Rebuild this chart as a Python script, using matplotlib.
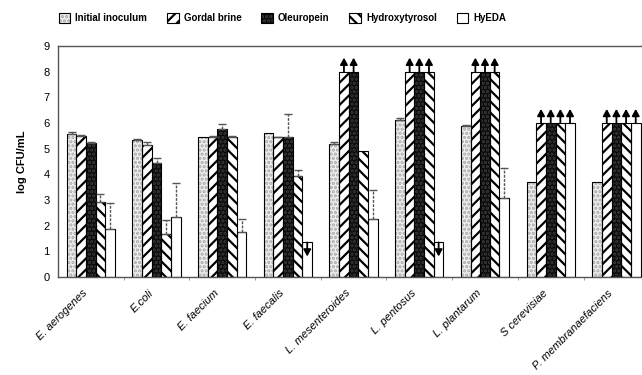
import numpy as np
import matplotlib.pyplot as plt
from matplotlib.patches import Patch

strains = ['E. aerogenes', 'E.coli', 'E. faecium', 'E. faecalis', 'L. mesenteroides',
           'L. pentosus', 'L. plantarum', 'S cerevisiae', 'P. membranaefaciens']
series = ['Initial inoculum', 'Gordal brine', 'Oleuropein', 'Hydroxytyrosol', 'HyEDA']

initial = [5.56, 5.33, 5.44, 5.61, 5.18, 6.13, 5.88, 3.69, 3.69]
gordal = [5.49, 5.15, 5.46, 5.44, 8.0, 8.0, 8.0, 6.0, 6.0]
oleuropein = [5.23, 4.42, 5.75, 5.44, 8.0, 8.0, 8.0, 6.0, 6.0]
hydroxy = [2.93, 1.65, 5.44, 3.93, 4.92, 8.0, 8.0, 6.0, 6.0]
hyeda = [1.87, 2.34, 1.73, 1.34, 2.25, 1.34, 3.06, 6.0, 6.0]

err_initial = [0.10, 0.04, 0.0, 0.0, 0.08, 0.05, 0.03, 0.0, 0.0]
err_gordal = [0.04, 0.09, 0.02, 0.03, 0.0, 0.0, 0.0, 0.0, 0.0]
err_oleuropein = [0.03, 0.20, 0.20, 0.93, 0.0, 0.0, 0.0, 0.0, 0.0]
err_hydroxy = [0.30, 0.56, 0.06, 0.23, 0.0, 0.0, 0.0, 0.0, 0.0]
err_hyeda = [0.99, 1.33, 0.52, 0.0, 1.12, 0.0, 1.17, 0.0, 0.0]

# 1 = above detection limit (arrow up), -1 = below detection limit (arrow down)
arr_initial = [0, 0, 0, 0, 0, 0, 0, 0, 0]
arr_gordal = [0, 0, 0, 0, 1, 1, 1, 1, 1]
arr_oleuropein = [0, 0, 0, 0, 1, 1, 1, 1, 1]
arr_hydroxy = [0, 0, 0, 0, 0, 1, 1, 1, 1]
arr_hyeda = [0, 0, 0, -1, 0, -1, 0, 1, 1]

values = [initial, gordal, oleuropein, hydroxy, hyeda]
errors = [err_initial, err_gordal, err_oleuropein, err_hydroxy, err_hyeda]
arrows = [arr_initial, arr_gordal, arr_oleuropein, arr_hydroxy, arr_hyeda]

# face colour, hatch, hatch colour
styles = [('#efefef', '....', '#a8a8a8'),
          ('white', '///', 'black'),
          ('#0c0c0c', '....', '#3a3a3a'),
          ('white', '\\\\\\', 'black'),
          ('white', '', 'black')]

plt.rcParams['hatch.linewidth'] = 1.6
plt.rcParams['font.family'] = 'Liberation Sans'

fig = plt.figure(figsize=(6.42, 3.75), dpi=100)
ax = fig.add_axes([0.0903, 0.262, 0.921, 0.615])

x = np.arange(len(strains))
w = 0.147
astyle = '-|>,head_width=0.22,head_length=0.4'

for i in range(5):
    pos = x + (i - 2) * w
    fc, hatch, hc = styles[i]
    ax.bar(pos, values[i], w, facecolor=fc, hatch=hatch, edgecolor=hc, linewidth=0, zorder=2)
    ax.bar(pos, values[i], w, fill=False, edgecolor='black', linewidth=0.8, zorder=3)
    errs = np.array(errors[i])
    m = errs > 0
    eb = ax.errorbar(pos[m], np.array(values[i])[m], yerr=[np.zeros(m.sum()), errs[m]],
                     fmt='none', ecolor='#555555', elinewidth=1, capsize=3, capthick=1, zorder=4)
    eb[2][0].set_linestyle((0, (2, 1)))
    for j in range(len(strains)):
        v = values[i][j]
        if arrows[i][j] == 0:
            continue
        tip = v + 0.55 if arrows[i][j] == 1 else v - 0.55
        ax.annotate('', xy=(pos[j], tip), xytext=(pos[j], v),
                    arrowprops=dict(arrowstyle=astyle, color='black', lw=1.3,
                                    shrinkA=0, shrinkB=0, mutation_scale=10), zorder=5)

ax.set_xlim(-0.5, len(strains) - 0.5)
ax.set_ylim(0, 9)
ax.set_yticks(range(10))
ax.tick_params(axis='y', length=0, labelsize=8, pad=6)
# labels sit a little left of the group centre, as in the original
ax.set_xticks(x - 0.13)
ax.set_xticklabels(strains, rotation=45, ha='right', rotation_mode='anchor',
                   fontstyle='italic', fontsize=8)
ax.tick_params(axis='x', length=0, pad=8)
ax.set_xticks(x[:-1] + 0.5, minor=True)
ax.tick_params(axis='x', which='minor', length=2, direction='out', color='#888888')
ax.set_ylabel('log CFU/mL', fontsize=8, fontweight='bold', labelpad=12)
for s in ax.spines.values():
    s.set_color('#555555')
    s.set_linewidth(1)

handles = [Patch(facecolor=styles[i][0], hatch=styles[i][1], edgecolor=styles[i][2], linewidth=0)
           for i in range(5)]
handles = [(h, Patch(fill=False, edgecolor='black', linewidth=0.8)) for h in handles]
fig.legend(handles, series, ncol=5, loc='center left', bbox_to_anchor=(0.078, 0.952),
           frameon=False, prop={'size': 7, 'weight': 'bold'}, handlelength=1.2,
           handleheight=1.2, columnspacing=2.05, handletextpad=0.5)

fig.savefig('out.png', dpi=100)
